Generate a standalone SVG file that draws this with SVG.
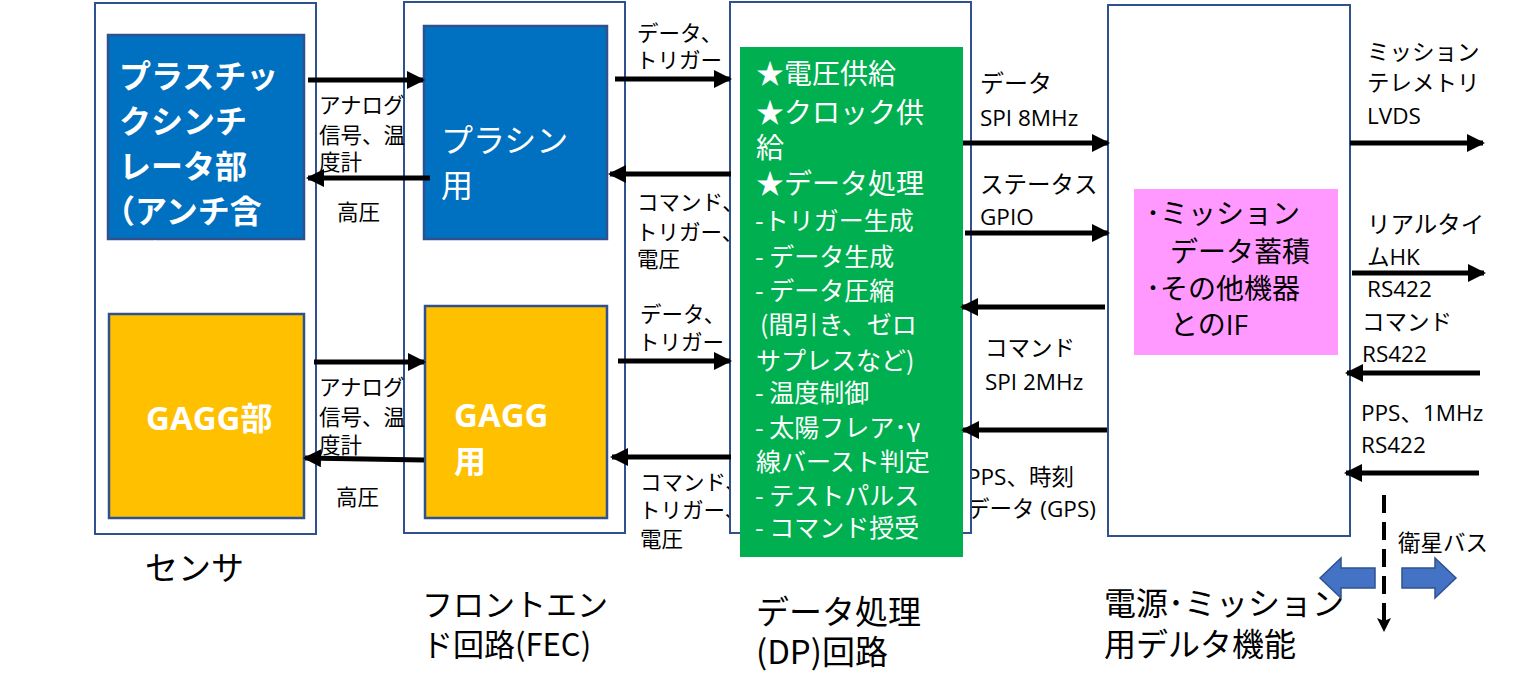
<svg xmlns="http://www.w3.org/2000/svg" width="1529" height="699" viewBox="0 0 1529 699">
<defs>
<style>
text{font-family:"Noto Sans CJK JP","Noto Sans",sans-serif;}
.lt{font-family:"Open Sans","Noto Sans",sans-serif;}
.outer{fill:#fff;stroke:#2F528F;stroke-width:2;}
.blue{fill:#0070C0;stroke:#2F528F;stroke-width:2.5;}
.yellow{fill:#FFC000;stroke:#2F528F;stroke-width:2.5;}
.wt{fill:#fff;}
.bk{fill:#000;}
.conn{stroke:#000;stroke-width:5;fill:none;marker-end:url(#ah);}
.big{font-size:32px;}
.lab{font-size:21.5px;}
.rl{font-size:22.5px;}
</style>
<marker id="ah" markerUnits="userSpaceOnUse" markerWidth="18" markerHeight="18" refX="16" refY="9" orient="auto">
<path d="M0,0 L18,9 L0,18 Z" fill="#000"/>
</marker>
<marker id="ah2" markerUnits="userSpaceOnUse" markerWidth="14" markerHeight="14" refX="12" refY="7" orient="auto">
<path d="M0,0 L14,7 L0,14 L3,7 Z" fill="#000"/>
</marker>
</defs>
<rect width="1529" height="699" fill="#fff"/>

<g id="sensor">
<rect class="outer" x="95" y="3" width="221" height="531"/>
<text class="bk" font-size="33" x="145" y="580">センサ</text>
</g>
<g id="plastic">
<rect class="blue" x="108" y="35" width="196" height="204"/>
<text class="wt" font-size="32" font-weight="bold">
<tspan x="119" y="88">プラスチッ</tspan>
<tspan x="119" y="133">クシンチ</tspan>
<tspan x="119" y="178">レータ部</tspan>
<tspan x="103" y="223">（アンチ含</tspan>
<tspan x="119" y="268">む）</tspan>
</text>
</g>
<g id="gagg">
<rect class="yellow" x="109" y="314" width="195" height="204"/>
<text class="wt" x="146" y="430" font-size="32" font-weight="bold"><tspan class="lt" font-size="33">GAGG</tspan>部</text>
</g>

<g id="fec">
<rect class="outer" x="404" y="2" width="221" height="531"/>
<text class="bk" font-size="31"><tspan x="422" y="616">フロントエン</tspan><tspan x="422" y="656">ド回路(FEC)</tspan></text>
</g>
<g id="fec-plashin">
<rect class="blue" x="424" y="26" width="183" height="213"/>
<text class="wt" font-size="32"><tspan x="441" y="152">プラシン</tspan><tspan x="441" y="197">用</tspan></text>
</g>
<g id="fec-gagg">
<rect class="yellow" x="425" y="306" width="182" height="212"/>
<text class="wt" font-size="32" font-weight="bold"><tspan class="lt" font-size="33" x="454" y="427">GAGG</tspan><tspan x="454" y="473">用</tspan></text>
</g>

<g id="labels-fec-dp">
<text class="bk lab"><tspan x="637" y="41">データ、</tspan><tspan x="636" y="68">トリガー</tspan></text>
<text class="bk lab"><tspan x="637" y="210">コマンド、</tspan><tspan x="636" y="240">トリガー、</tspan><tspan x="637" y="267">電圧</tspan></text>
<text class="bk lab"><tspan x="640" y="322">データ、</tspan><tspan x="638" y="350">トリガー</tspan></text>
<text class="bk lab"><tspan x="640" y="490">コマンド、</tspan><tspan x="639" y="518">トリガー、</tspan><tspan x="640" y="547">電圧</tspan></text>
</g>

<g id="labels-dp-delta">
<text class="bk rl"><tspan x="980" y="92" font-size="24">データ</tspan><tspan class="lt" x="980" y="126">SPI 8MHz</tspan></text>
<text class="bk rl"><tspan x="980" y="193" font-size="23.5">ステータス</tspan><tspan class="lt" x="980" y="225">GPIO</tspan></text>
<text class="bk rl"><tspan x="985" y="356">コマンド</tspan><tspan class="lt" x="985" y="390">SPI 2MHz</tspan></text>
<text class="bk rl" font-size="24"><tspan x="967" y="485"><tspan class="lt">PPS</tspan>、時刻</tspan><tspan x="967" y="517">データ<tspan class="lt"> (GPS)</tspan></tspan></text>
</g>

<g id="dp">
<rect class="outer" x="730" y="2" width="241" height="531"/>
<text class="bk" font-size="33"><tspan x="756" y="624">データ処理</tspan><tspan x="756" y="664">(DP)回路</tspan></text>
</g>
<g id="dp-main">
<rect x="740" y="47" width="223" height="510" fill="#00B050"/>
<text class="wt" font-size="28">
<tspan x="756" y="84">★電圧供給</tspan>
<tspan x="756" y="123">★クロック供</tspan>
<tspan x="756" y="158">給</tspan>
<tspan x="756" y="194">★データ処理</tspan>
</text>
<text class="wt" font-size="25">
<tspan x="755" y="230">-トリガー生成</tspan>
<tspan x="755" y="266">- データ生成</tspan>
<tspan x="755" y="300">- データ圧縮</tspan>
<tspan x="760" y="334">(間引き、ゼロ</tspan>
<tspan x="756" y="370">サプレスなど)</tspan>
<tspan x="755" y="402">- 温度制御</tspan>
<tspan x="755" y="437">- 太陽フレア･γ</tspan>
<tspan x="756" y="471">線バースト判定</tspan>
<tspan x="755" y="505">- テストパルス</tspan>
<tspan x="755" y="537">- コマンド授受</tspan>
</text>
</g>

<g id="delta">
<rect class="outer" x="1108" y="5" width="242" height="531"/>
<text class="bk" font-size="32"><tspan x="1104" y="615">電源･ミッション</tspan><tspan x="1104" y="656">用デルタ機能</tspan></text>
</g>
<g id="delta-func">
<rect x="1134" y="189" width="204" height="166" fill="#FF99FF"/>
<text class="bk" font-size="28"><tspan x="1146" y="224">･ミッション</tspan><tspan x="1170" y="262">データ蓄積</tspan><tspan x="1146" y="299">･その他機器</tspan><tspan x="1170" y="335">との<tspan class="lt">IF</tspan></tspan></text>
</g>

<g id="labels-right">
<text class="bk rl"><tspan x="1367" y="60">ミッション</tspan><tspan x="1367" y="91">テレメトリ</tspan><tspan class="lt" x="1367" y="124">LVDS</tspan></text>
<text class="bk rl"><tspan x="1367" y="233" font-size="23.5">リアルタイ</tspan><tspan x="1367" y="265">ム<tspan class="lt">HK</tspan></tspan><tspan class="lt" x="1367" y="297">RS422</tspan></text>
<text class="bk rl"><tspan x="1362" y="330">コマンド</tspan><tspan class="lt" x="1362" y="362">RS422</tspan></text>
<text class="bk rl"><tspan x="1361" y="421"><tspan class="lt">PPS</tspan>、<tspan class="lt">1MHz</tspan></tspan><tspan class="lt" x="1361" y="453">RS422</tspan></text>
<text class="bk rl" x="1398" y="551">衛星バス</text>
</g>

<g id="labels-sensor-fec">
<text class="bk lab"><tspan x="319" y="113">アナログ</tspan><tspan x="319" y="143">信号、温</tspan><tspan x="319" y="170">度計</tspan></text>
<text class="bk lab" x="337" y="220">高圧</text>
<text class="bk lab"><tspan x="319" y="395">アナログ</tspan><tspan x="319" y="425">信号、温</tspan><tspan x="319" y="453">度計</tspan></text>
<text class="bk lab" x="336" y="505">高圧</text>
</g>

<g id="connectors">
<line class="conn" x1="308" y1="80" x2="423" y2="80"/>
<line class="conn" x1="430" y1="178" x2="308" y2="178"/>
<line class="conn" x1="314" y1="362" x2="424" y2="362"/>
<line class="conn" x1="424" y1="460" x2="305" y2="458"/>
<line class="conn" x1="615" y1="79" x2="730" y2="79"/>
<line class="conn" x1="731" y1="174" x2="610" y2="174"/>
<line class="conn" x1="618" y1="361" x2="730" y2="361"/>
<line class="conn" x1="731" y1="457" x2="612" y2="457"/>
<line class="conn" x1="963" y1="143" x2="1108" y2="143"/>
<line class="conn" x1="965" y1="233" x2="1108" y2="233"/>
<line class="conn" x1="1105" y1="307" x2="962" y2="307"/>
<line class="conn" x1="1107" y1="430" x2="963" y2="430"/>
<line class="conn" x1="1350" y1="143" x2="1483" y2="143"/>
<line class="conn" x1="1352" y1="273" x2="1484" y2="273"/>
<line class="conn" x1="1480" y1="373" x2="1347" y2="373"/>
<line class="conn" x1="1479" y1="473" x2="1346" y2="473"/>
<line x1="1384" y1="495" x2="1384" y2="630" stroke="#000" stroke-width="4" stroke-dasharray="18,9" marker-end="url(#ah2)"/>
<polygon points="1320,578 1341,558 1341,568 1375,568 1375,588 1341,588 1341,598" fill="#4472C4" stroke="#2F528F" stroke-width="1.5"/>
<polygon points="1402,568 1435,568 1435,558 1456,578 1435,598 1435,588 1402,588" fill="#4472C4" stroke="#2F528F" stroke-width="1.5"/>
</g>
</svg>
